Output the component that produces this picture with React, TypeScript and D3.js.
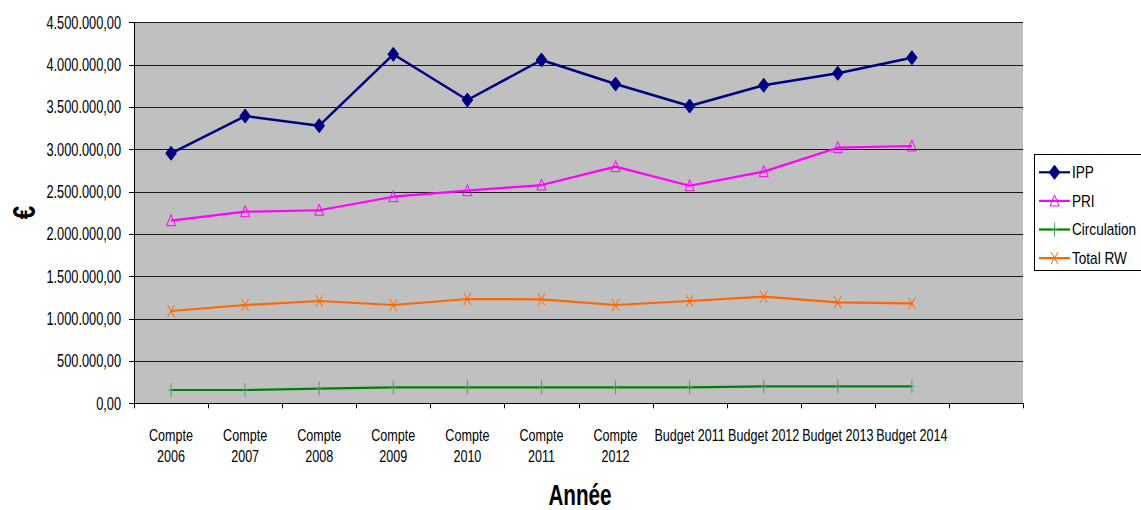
import React from "react";
import * as d3 from "d3";

const categories = [
  "Compte\n2006", "Compte\n2007", "Compte\n2008", "Compte\n2009", "Compte\n2010",
  "Compte\n2011", "Compte\n2012", "Budget 2011", "Budget 2012", "Budget 2013", "Budget 2014",
];
const slotCount = 12;
const ipp = [2953000, 3393000, 3279000, 4122000, 3582000, 4055000, 3771000, 3511000, 3756000, 3898000, 4082000];
const pri = [2157000, 2263000, 2280000, 2440000, 2511000, 2578000, 2795000, 2570000, 2736000, 3019000, 3039000];
const circulation = [157000, 157000, 173000, 189000, 189000, 189000, 189000, 189000, 200000, 200000, 200000];
const totalRW = [1090000, 1161000, 1208000, 1161000, 1232000, 1228000, 1161000, 1208000, 1259000, 1193000, 1181000];
const yTicks = [0, 500000, 1000000, 1500000, 2000000, 2500000, 3000000, 3500000, 4000000, 4500000];

const FONT = "'Liberation Sans', Arial, sans-serif";

const fmt = (v: number) => {
  const s = d3.format(",.2f")(v);
  return s.replace(/,/g, "#").replace(/\./g, ",").replace(/#/g, ".");
};

type Marker = "diamond" | "triangle" | "plus" | "cross";
const series: { name: string; values: number[]; color: string; marker: Marker; markerColor: string }[] = [
  { name: "IPP", values: ipp, color: "#000080", marker: "diamond", markerColor: "#000080" },
  { name: "PRI", values: pri, color: "#FF00FF", marker: "triangle", markerColor: "#FF00FF" },
  { name: "Circulation", values: circulation, color: "#008000", marker: "plus", markerColor: "#3A9A6A" },
  { name: "Total RW", values: totalRW, color: "#FF6600", marker: "cross", markerColor: "#FF6600" },
];

function NText({ x, y, size, anchor = "start", weight = "normal", sx = 0.74, dy = "0", children }: any) {
  return (
    <text transform={`translate(${x},${y}) scale(${sx},1)`} dy={dy} textAnchor={anchor} fontSize={size} fontWeight={weight} fill="#000">
      {children}
    </text>
  );
}

function MarkerShape({ type, x, y, color }: { type: Marker; x: number; y: number; color: string }) {
  if (type === "diamond") {
    return <path d={`M${x},${y - 7}L${x + 5.3},${y}L${x},${y + 7}L${x - 5.3},${y}Z`} fill={color} stroke={color} strokeWidth={1} />;
  }
  if (type === "triangle") {
    return <path d={`M${x},${y - 6}L${x + 4.5},${y + 5}L${x - 4.5},${y + 5}Z`} fill="none" stroke={color} strokeWidth={1} />;
  }
  if (type === "plus") {
    return (
      <g stroke={color} strokeWidth={1} opacity={0.85}>
        <line x1={x} y1={y - 7} x2={x} y2={y + 7} />
        <line x1={x - 3} y1={y} x2={x + 3} y2={y} />
      </g>
    );
  }
  return (
    <g stroke={color} strokeWidth={1}>
      <line x1={x - 3.5} y1={y - 6} x2={x + 3.5} y2={y + 6} />
      <line x1={x + 3.5} y1={y - 6} x2={x - 3.5} y2={y + 6} />
    </g>
  );
}

export default function App() {
  const W = 1141, H = 510;
  const left = 134, right = 1023, top = 22.3, bottom = 403.3;
  const x = d3.scaleLinear().domain([0, slotCount]).range([left, right]);
  const y = d3.scaleLinear().domain([0, 4500000]).range([bottom, top]);
  const line = d3.line<number>().x((_, i) => x(i + 0.5)).y((d) => y(d));

  return (
    <svg width={W} height={H} style={{ position: "absolute", left: 0, top: 0, background: "#fff" }} fontFamily={FONT}>
      <rect x={left} y={top} width={right - left} height={bottom - top} fill="#C0C0C0" />
      {yTicks.map((t) => (
        <g key={t}>
          {t > 0 && <line x1={left} x2={right} y1={Math.round(y(t)) + 0.5} y2={Math.round(y(t)) + 0.5} stroke="#1a1a1a" strokeWidth={1} />}
          <line x1={left - 5} x2={left} y1={Math.round(y(t)) + 0.5} y2={Math.round(y(t)) + 0.5} stroke="#000" />
          <NText x={121} y={y(t) + 6.3} anchor="end" size={17.5} sx={0.73}>{fmt(t)}</NText>
        </g>
      ))}
      <line x1={left + 0.5} x2={left + 0.5} y1={top} y2={bottom} stroke="#000" />
      <line x1={left} x2={right} y1={Math.round(bottom) + 0.5} y2={Math.round(bottom) + 0.5} stroke="#000" />
      {d3.range(slotCount + 1).map((i) => (
        <line key={i} x1={Math.round(x(i)) + 0.5} x2={Math.round(x(i)) + 0.5} y1={bottom} y2={bottom + 5} stroke="#000" />
      ))}
      {categories.map((c, i) => (
        <g key={c}>
          {c.split("\n").map((l, j) => (
            <NText key={j} x={x(i + 0.5)} y={441 + j * 21} anchor="middle" size={17} sx={0.74}>{l}</NText>
          ))}
        </g>
      ))}
      {series.map((s) => (
        <g key={s.name}>
          <path d={line(s.values) || ""} fill="none" stroke={s.color} strokeWidth={s.marker === "diamond" ? 2.5 : 2.2} strokeLinejoin="round" />
          {s.values.map((v, i) => (
            <MarkerShape key={i} type={s.marker} x={x(i + 0.5)} y={y(v)} color={s.markerColor} />
          ))}
        </g>
      ))}
      <NText x={580} y={505} anchor="middle" size={30} weight="bold" sx={0.69}>Année</NText>
      <text transform="translate(35,212.5) rotate(-90) scale(0.75,1)" textAnchor="middle" fontSize={32} fontWeight="bold" fill="#000">€</text>
      <rect x={1034.5} y={154.5} width={110} height={116} fill="#fff" stroke="#000" strokeWidth={1} />
      {series.map((s, i) => {
        const ly = 172.3 + i * 28.6;
        return (
          <g key={s.name}>
            <line x1={1039} x2={1070} y1={ly} y2={ly} stroke={s.color} strokeWidth={2.2} />
            <MarkerShape type={s.marker} x={1054.5} y={ly} color={s.markerColor} />
            <NText x={1072} y={ly + 5.7} size={16} sx={0.85}>{s.name}</NText>
          </g>
        );
      })}
    </svg>
  );
}
